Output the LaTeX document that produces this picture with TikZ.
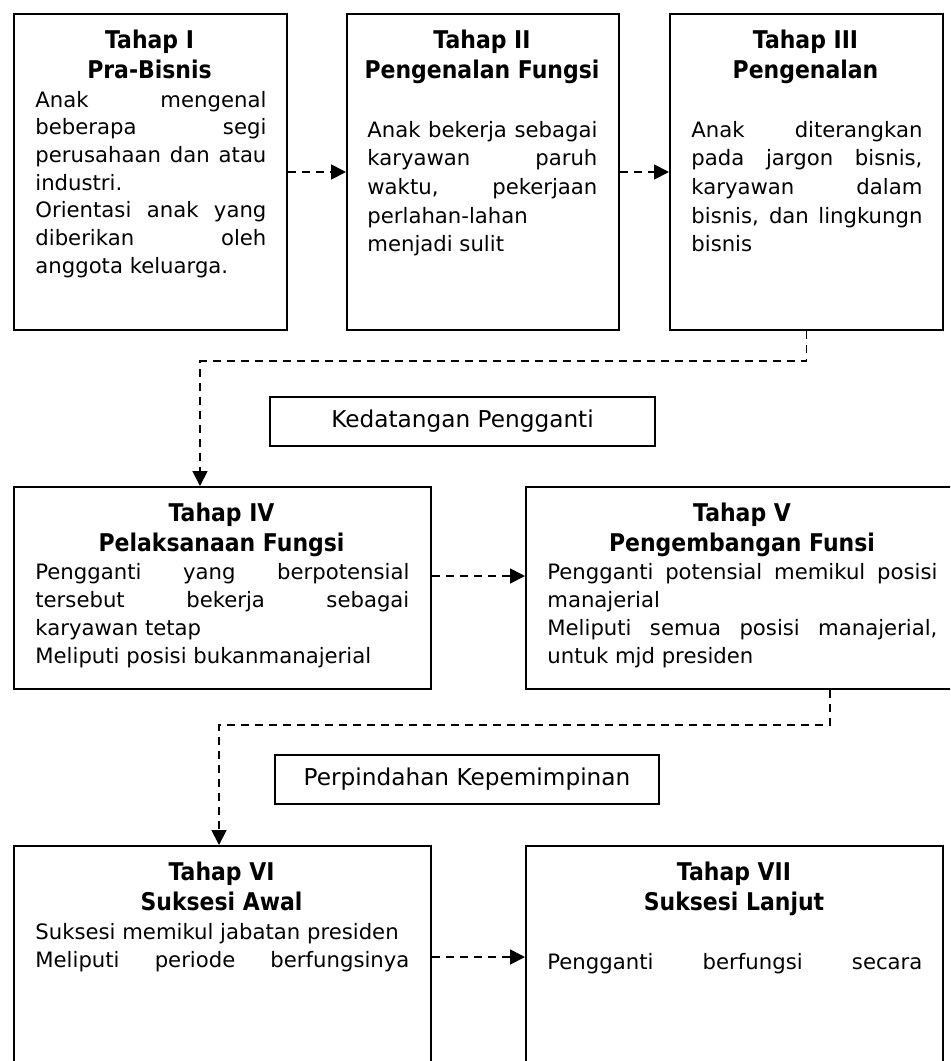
\documentclass[tikz,border=0pt]{standalone}
\usepackage{fontspec}
\setmainfont{DejaVu Sans}
\newfontfamily\ttlfont{DejaVu Sans Bold}[FakeStretch=0.9]
\usetikzlibrary{arrows.meta}
\tikzset{
  box/.style={draw, line width=1pt, anchor=north west, inner sep=0pt},
  lbl/.style={draw, line width=1pt, anchor=north west, inner sep=0pt, font=\fontsize{11.6}{14}\selectfont},
  conn/.style={line width=0.9pt, dash pattern=on 4pt off 3pt, -{Triangle[length=7.5pt,width=7.5pt]}},
  txt/.style={inner sep=0pt, anchor=base west, font=\fontsize{10.6}{14}\selectfont},
  ttl/.style={inner sep=0pt, anchor=base, font=\fontsize{12.2}{15}\ttlfont},
}
\newcommand\J[1]{\hbox to\hsize{#1}}
\newcommand\Lf[1]{\hbox{#1}}
\newcommand\bodyblock[3]{\vtop{\hsize=#1\baselineskip=#2\lineskiplimit=-20pt #3}}
\newcommand\ttlines[1]{\vtop{\baselineskip=15.25pt\halign{\hfil##\hfil\cr#1\crcr}}}
\begin{document}
\begin{tikzpicture}[x=0.5pt,y=-0.5pt]
\useasboundingbox (0,0) rectangle (950,1061);
\clip (0,0) rectangle (950,1061);
\fill[white] (0,0) rectangle (950,1061);
% boxes
\node[box, minimum width=136.5pt, minimum height=158pt] (b1) at (13,13) {};
\node[box, minimum width=136pt, minimum height=158pt] (b2) at (346,13) {};
\node[box, minimum width=136.5pt, minimum height=158pt] (b3) at (669,13) {};
\node[box, minimum width=208.5pt, minimum height=101pt] (b4) at (13,486) {};
\node[box, minimum width=220pt, minimum height=101pt] (b5) at (525,486) {};
\node[box, minimum width=208.5pt, minimum height=120pt] (b6) at (13,845) {};
\node[box, minimum width=208.5pt, minimum height=120pt] (b7) at (525,845) {};
\node[lbl, minimum width=192.5pt, minimum height=24.5pt] (k1) at (269,396) {Kedatangan Pengganti};
\node[lbl, minimum width=192pt, minimum height=24.5pt] (k2) at (274,754) {Perpindahan Kepemimpinan};
% titles
\node[ttl] (h1) at (149.5,48) {\ttlines{Tahap I\cr Pra-Bisnis}};
\node[ttl] (h2) at (482,48) {\ttlines{Tahap II\cr Pengenalan Fungsi}};
\node[ttl] (h3) at (805.5,48) {\ttlines{Tahap III\cr Pengenalan}};
\node[ttl] (h4) at (221.5,521) {\ttlines{Tahap IV\cr Pelaksanaan Fungsi}};
\node[ttl] (h5) at (742,521) {\ttlines{Tahap V\cr Pengembangan Funsi}};
\node[ttl] (h6) at (221.5,880) {\ttlines{Tahap VI\cr Suksesi Awal}};
\node[ttl] (h7) at (734,880) {\ttlines{Tahap VII\cr Suksesi Lanjut}};
% bodies
\node[txt] (p1) at (35,107) {\bodyblock{115.5pt}{13.85pt}{\J{Anak mengenal}\J{beberapa segi}\J{perusahaan dan atau}\Lf{industri.}\J{Orientasi anak yang}\J{diberikan oleh}\Lf{anggota keluarga.}}};
\node[txt] (p2) at (367,137) {\bodyblock{115pt}{14.35pt}{\J{Anak bekerja sebagai}\J{karyawan paruh}\J{waktu, pekerjaan}\Lf{perlahan-lahan}\Lf{menjadi sulit}}};
\node[txt] (p3) at (691,137) {\bodyblock{115.5pt}{14.35pt}{\J{Anak diterangkan}\J{pada jargon bisnis,}\J{karyawan dalam}\J{bisnis, dan lingkungn}\Lf{bisnis}}};
\node[txt] (p4) at (35,579) {\bodyblock{187pt}{14pt}{\J{Pengganti yang berpotensial}\J{tersebut bekerja sebagai}\Lf{karyawan tetap}\Lf{Meliputi posisi bukanmanajerial}}};
\node[txt] (p5) at (547,579) {\bodyblock{195pt}{14pt}{\J{Pengganti potensial memikul posisi}\Lf{manajerial}\J{Meliputi semua posisi manajerial,}\Lf{untuk mjd presiden}}};
\node[txt] (p6) at (35,939) {\bodyblock{187pt}{14pt}{\Lf{Suksesi memikul jabatan presiden}\J{Meliputi periode berfungsinya}}};
\node[txt] (p7) at (547,969) {\bodyblock{187.5pt}{14pt}{\J{Pengganti berfungsi secara}}};
% connectors
\draw[conn] (b1.east) -- (b2.west);
\draw[conn] (b2.east) -- (b3.west);
\draw[conn] (b3.south) -- ++(0,30) -| ([xshift=-11.25pt]b4.north);
\draw[conn] ([yshift=-45pt]b4.north east) -- ([yshift=-45pt]b5.north west);
\draw[conn] ([xshift=152.5pt]b5.south west) -- ++(0,35) -| ([xshift=-1.75pt]b6.north);
\draw[conn] ([yshift=-56pt]b6.north east) -- ([yshift=-56pt]b7.north west);
\end{tikzpicture}
\end{document}
